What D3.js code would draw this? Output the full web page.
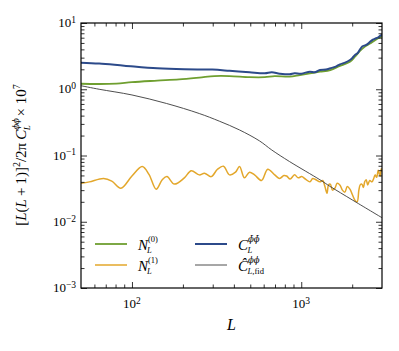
<!DOCTYPE html>
<html>
<head>
<meta charset="utf-8">
<script src="https://cdn.jsdelivr.net/npm/d3@7"></script>
<style>
    body { margin: 0; background: #fff; }
    svg { font-family: "Liberation Serif", "DejaVu Serif", serif; }
    .phi { font-family: "DejaVu Serif", serif; font-style: italic; }
</style>
</head>
<body>
<svg id="chart" width="399" height="351"></svg>
<script>
// ---- data ----
const L_n0 = [50, 64, 81, 100, 141, 190, 250, 307, 377, 495, 609, 697, 853, 981, 1125, 1290, 1485, 1693, 1940, 2078, 2225, 2380, 2550, 2730, 2925, 3000];
const N0   = [1.21, 1.20, 1.22, 1.28, 1.35, 1.41, 1.50, 1.58, 1.58, 1.52, 1.52, 1.58, 1.55, 1.64, 1.74, 1.84, 1.95, 2.25, 2.6, 3.1, 3.8, 4.4, 4.9, 5.5, 6.1, 6.3];

const L_n1 = [50, 56, 68, 76, 86, 100, 115, 126, 139, 151, 161, 178, 204, 224, 250, 268, 294, 320, 347, 377, 409, 432, 462, 495, 530, 583, 634, 697, 746, 790, 820, 860, 913, 960, 1005, 1060, 1125, 1170, 1220, 1290, 1340, 1380, 1420, 1450, 1485, 1530, 1580, 1630, 1690, 1750, 1810, 1870, 1940, 2000, 2080, 2140, 2190, 2230, 2280, 2330, 2370, 2420, 2470, 2540, 2620, 2680, 2730, 2790, 2850, 2900, 2930, 2970, 3000];
const N1   = [0.038, 0.040, 0.045, 0.041, 0.032, 0.049, 0.068, 0.052, 0.031, 0.043, 0.048, 0.037, 0.046, 0.059, 0.051, 0.054, 0.048, 0.062, 0.069, 0.051, 0.056, 0.068, 0.046, 0.056, 0.051, 0.042, 0.062, 0.051, 0.045, 0.050, 0.049, 0.044, 0.051, 0.046, 0.048, 0.044, 0.040, 0.045, 0.043, 0.040, 0.042, 0.034, 0.027, 0.036, 0.037, 0.030, 0.032, 0.038, 0.036, 0.030, 0.028, 0.034, 0.031, 0.026, 0.021, 0.020, 0.030, 0.036, 0.037, 0.033, 0.040, 0.043, 0.036, 0.042, 0.040, 0.045, 0.051, 0.047, 0.060, 0.052, 0.049, 0.063, 0.057];

const L_bar = [50, 64, 90, 141, 204, 298, 377, 495, 609, 670, 746, 853, 913, 1000, 1125, 1200, 1290, 1400, 1485, 1600, 1693, 1800, 1940, 2000, 2078, 2150, 2225, 2300, 2380, 2450, 2550, 2650, 2730, 2830, 2925, 3000];
const Cbar  = [2.52, 2.44, 2.27, 2.07, 2.0, 1.98, 1.9, 1.80, 1.74, 1.80, 1.72, 1.68, 1.74, 1.72, 1.84, 1.80, 1.95, 1.98, 2.07, 2.2, 2.38, 2.5, 2.76, 2.95, 3.3, 3.5, 4.0, 4.45, 4.6, 4.75, 5.2, 5.6, 5.8, 6.0, 6.4, 6.7];

const L_fid = [50, 64, 100, 160, 250, 328, 432, 567, 670, 853, 1290, 1485, 2000, 3000];
const Cfid  = [1.13, 1.0, 0.82, 0.61, 0.43, 0.33, 0.243, 0.166, 0.121, 0.081, 0.043, 0.034, 0.0214, 0.0115];

const xMajor = [100, 1000];
const xMinor = [60, 70, 80, 90, 200, 300, 400, 500, 600, 700, 800, 900, 2000];
const yMajor = [1e-3, 1e-2, 1e-1, 1, 10];
const yExp = ["\u22123", "\u22122", "\u22121", "0", "1"];
const xExp = ["2", "3"];

// ---- layout ----
const W = 399, H = 351;
const margin = {top: 23, right: 17, bottom: 63, left: 81};
const svg = d3.select("#chart");

const x = d3.scaleLog().domain([50, 3000]).range([margin.left, W - margin.right]);
const y = d3.scaleLog().domain([1e-3, 10]).range([H - margin.bottom, margin.top]);

const yMinor = [];
yMajor.slice(0, -1).forEach(d => { for (let k = 2; k < 10; k++) yMinor.push(d * k); });

svg.append("clipPath").attr("id", "clip")
    .append("rect")
    .attr("x", margin.left).attr("y", margin.top)
    .attr("width", W - margin.left - margin.right)
    .attr("height", H - margin.top - margin.bottom);

// ---- series ----
const series = [
    {L: L_n0,  v: N0,   color: "#6f9f30", width: 1.8},
    {L: L_n1,  v: N1,   color: "#e3a72b", width: 1.5},
    {L: L_bar, v: Cbar, color: "#2c4a8a", width: 2},
    {L: L_fid, v: Cfid, color: "#3a3a3a", width: 0.9}
];

const line = d3.line()
    .x(d => x(d[0]))
    .y(d => y(d[1]))
    .curve(d3.curveCatmullRom.alpha(0.5));

svg.append("g").attr("clip-path", "url(#clip)")
    .selectAll("path")
    .data(series)
    .join("path")
        .attr("fill", "none")
        .attr("stroke", d => d.color)
        .attr("stroke-width", d => d.width)
        .attr("stroke-linejoin", "round")
        .attr("d", d => line(d.L.map((l, i) => [l, d.v[i]])));

// ---- axes (ticks point inward, on all four sides) ----
function ticks(axisGen, translate, values, size) {
    svg.append("g")
        .attr("transform", translate)
        .call(axisGen.tickValues(values).tickSize(size).tickFormat(""))
        .call(g => g.select(".domain").remove())
        .call(g => g.selectAll(".tick line").attr("stroke", "#000").attr("stroke-width", 0.8));
}
const atBottom = `translate(0,${y.range()[0]})`, atTop = `translate(0,${y.range()[1]})`;
const atLeft = `translate(${x.range()[0]},0)`, atRight = `translate(${x.range()[1]},0)`;
ticks(d3.axisBottom(x), atBottom, xMajor, -6);
ticks(d3.axisBottom(x), atBottom, xMinor, -3.5);
ticks(d3.axisTop(x), atTop, xMajor, -6);
ticks(d3.axisTop(x), atTop, xMinor, -3.5);
ticks(d3.axisLeft(y), atLeft, yMajor, -6);
ticks(d3.axisLeft(y), atLeft, yMinor, -3.5);
ticks(d3.axisRight(y), atRight, yMajor, -6);
ticks(d3.axisRight(y), atRight, yMinor, -3.5);

svg.append("rect")
    .attr("x", margin.left).attr("y", margin.top)
    .attr("width", W - margin.left - margin.right)
    .attr("height", H - margin.top - margin.bottom)
    .attr("fill", "none").attr("stroke", "#000").attr("stroke-width", 1.2);

function pow10(sel, exp) {
    sel.append("tspan").text("10");
    sel.append("tspan").attr("dy", "-0.45em").attr("font-size", "9.5px").text(exp);
}

svg.append("g").selectAll("text")
    .data(yMajor)
    .join("text")
        .attr("x", x.range()[0] - 5)
        .attr("y", d => y(d))
        .attr("dy", "0.32em")
        .attr("text-anchor", "end")
        .attr("font-size", 13)
        .each(function(d, i) { pow10(d3.select(this), yExp[i]); });

svg.append("g").selectAll("text")
    .data(xMajor)
    .join("text")
        .attr("x", d => x(d))
        .attr("y", y.range()[0] + 20)
        .attr("text-anchor", "middle")
        .attr("font-size", 13)
        .each(function(d, i) { pow10(d3.select(this), xExp[i]); });

// ---- axis titles ----
svg.append("text")
    .attr("x", (x.range()[0] + x.range()[1]) / 2)
    .attr("y", 330)
    .attr("text-anchor", "middle")
    .attr("font-size", 16)
    .attr("font-style", "italic")
    .text("L");

function rich(sel, parts) {
    parts.forEach(p => {
        const t = sel.append("tspan").text(p.t);
        if (p.i) t.attr("font-style", "italic");
        if (p.phi) t.attr("class", "phi");
        if (p.fs) t.attr("font-size", p.fs);
        if (p.dy) t.attr("dy", p.dy);
        if (p.dx) t.attr("dx", p.dx);
    });
}

rich(svg.append("text")
    .attr("transform", "translate(26,155) rotate(-90)")
    .attr("text-anchor", "middle")
    .attr("font-size", 15), [
    {t: "["}, {t: "L", i: 1}, {t: "("}, {t: "L", i: 1}, {t: "\u2009+\u20091)]"},
    {t: "2", fs: 10, dy: -6}, {t: "/2\u03c0\u2009", dy: 6},
    {t: "C", i: 1}, {t: "\u03d5\u03d5", phi: 1, fs: 8.5, dy: -7},
    {t: "L", i: 1, fs: 9, dy: 11, dx: -12},
    {t: " \u00d7 10", dy: -4, dx: 5}, {t: "7", fs: 10, dy: -6}
]);

// ---- legend ----
const legend = [
    {color: "#6f9f30", width: 1.8, lx: 95,  ly: 244, parts: [{t: "N", i: 1}, {t: "(0)", fs: 8.5, dy: -8}, {t: "L", i: 1, fs: 8.5, dy: 11, dx: -11}]},
    {color: "#e3a72b", width: 1.5, lx: 95,  ly: 265, parts: [{t: "N", i: 1}, {t: "(1)", fs: 8.5, dy: -8}, {t: "L", i: 1, fs: 8.5, dy: 11, dx: -11}]},
    {color: "#2c4a8a", width: 2,   lx: 195, ly: 244, parts: [{t: "C", i: 1}, {t: "\u03d5\u0304\u03d5\u0304", phi: 1, fs: 8.5, dy: -8}, {t: "L", i: 1, fs: 8.5, dy: 11, dx: -12}]},
    {color: "#3a3a3a", width: 0.9, lx: 195, ly: 265, parts: [{t: "\u0108", i: 1}, {t: "\u03d5\u03d5", phi: 1, fs: 8.5, dy: -8}, {t: "L", i: 1, fs: 8.5, dy: 11, dx: -12}, {t: ",fid", fs: 8.5}]}
];

const lg = svg.append("g").selectAll("g").data(legend).join("g");
lg.append("line")
    .attr("x1", d => d.lx).attr("x2", d => d.lx + 32)
    .attr("y1", d => d.ly).attr("y2", d => d.ly)
    .attr("stroke", d => d.color)
    .attr("stroke-width", d => d.width);
lg.append("text")
    .attr("x", d => d.lx + 43)
    .attr("y", d => d.ly + 6)
    .attr("font-size", 15)
    .each(function(d) { rich(d3.select(this), d.parts); });
</script>
</body>
</html>
